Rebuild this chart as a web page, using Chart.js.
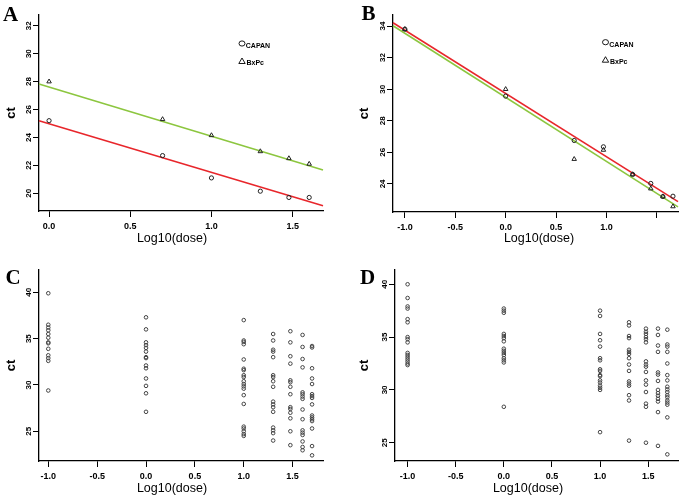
<!DOCTYPE html>
<html>
<head>
<meta charset="utf-8">
<script src="https://cdn.jsdelivr.net/npm/chart.js@4.4.0/dist/chart.umd.min.js"></script>
<style>
  body { margin: 0; background: #fff; }
  #wrap { position: relative; width: 683px; height: 500px; overflow: hidden; }
  canvas { position: absolute; }
</style>
</head>
<body>
<div id="wrap">
  <canvas id="panelA" width="341" height="250" style="left:0;top:0"></canvas>
  <canvas id="panelB" width="343" height="250" style="left:340px;top:0"></canvas>
  <canvas id="panelC" width="341" height="250" style="left:0;top:250px"></canvas>
  <canvas id="panelD" width="343" height="250" style="left:340px;top:250px"></canvas>
</div>
<script>
// Panel A: standard curves
const doseA = [0, 0.699, 1, 1.301, 1.477, 1.602];
const capanA = [25.2, 22.7, 21.1, 20.15, 19.7, 19.7];
const bxpcA = [28.0, 25.3, 24.15, 23.0, 22.5, 22.1];
const fitDoseA = [-0.062, 1.687];
const fitCapanA = [25.2, 19.1];
const fitBxpcA = [27.83, 21.67];
const xTicksA = [0, 0.5, 1, 1.5];
const xLabelsA = ["0.0", "0.5", "1.0", "1.5"];
const yTicksA = [20, 22, 24, 26, 28, 30, 32];

// Panel B
const doseB = [-1, 0, 0.68, 0.97, 1.26, 1.44, 1.56, 1.66];
const capanB = [33.8, 29.56, 26.75, 26.35, 24.6, 24.03, 23.2, 23.22];
const bxpcB = [33.8, 30.0, 25.57, 26.15, 24.6, 23.7, 23.2, 22.57];
const fitDoseB = [-1.118, 1.71];
const fitCapanB = [34.21, 22.88];
const fitBxpcB = [34.02, 22.54];
const xTicksB = [-1, -0.5, 0, 0.5, 1, 1.5];
const xLabelsB = ["-1.0", "-0.5", "0.0", "0.5", "1.0", ""];
const yTicksB = [24, 26, 28, 30, 32, 34];

// Panels C and D: ct values at each dose level
const dosesCD = [-1, 0, 1, 1.301, 1.477, 1.602, 1.699];
const xTicksCD = [-1, -0.5, 0, 0.5, 1, 1.5];
const xLabelsCD = ["-1.0", "-0.5", "0.0", "0.5", "1.0", "1.5"];
const yTicksCD = [25, 30, 35, 40];

const ctC = [
  [39.9, 36.5, 36.2, 35.9, 35.5, 35.1, 34.6, 34.5, 33.9, 33.2, 32.9, 32.6, 29.4],
  [37.3, 36.0, 34.6, 34.3, 34.0, 33.6, 33.0, 32.9, 32.1, 31.8, 30.7, 29.9, 29.1, 27.1],
  [37.0, 34.8, 34.65, 34.4, 32.75, 31.75, 31.6, 31.05, 30.85, 30.4, 30.1, 29.85, 29.6, 28.9, 27.95, 25.5, 25.3, 25.0, 24.7, 24.5],
  [35.5, 34.8, 33.8, 33.6, 33.0, 31.05, 30.85, 30.4, 29.8, 28.2, 27.9, 27.6, 27.1, 25.4, 25.1, 24.8, 24.0],
  [35.8, 34.6, 33.1, 32.3, 30.5, 30.3, 29.8, 29.0, 27.6, 27.4, 27.0, 26.4, 25.0, 23.5],
  [35.4, 34.1, 32.8, 31.9, 29.2, 29.0, 28.75, 28.5, 27.35, 26.3, 25.1, 24.85, 24.6, 23.9, 23.3, 22.95],
  [34.2, 34.05, 31.8, 30.7, 30.1, 29.0, 28.8, 28.6, 27.9, 26.7, 26.5, 26.3, 26.1, 25.3, 23.4, 22.4],
];
const ctD = [
  [40.0, 38.7, 37.9, 37.7, 36.7, 36.4, 35.0, 34.8, 34.5, 33.5, 33.3, 33.1, 32.9, 32.7, 32.5, 32.35],
  [37.7, 37.5, 37.3, 35.3, 35.1, 34.9, 34.6, 33.9, 33.7, 33.5, 33.3, 33.0, 32.8, 32.6, 28.4],
  [37.5, 37.0, 35.3, 34.7, 34.1, 33.0, 32.8, 31.95, 31.8, 31.4, 31.3, 30.9, 30.7, 30.4, 30.2, 30.0, 26.0],
  [36.4, 36.1, 35.1, 34.9, 33.8, 33.6, 33.4, 33.0, 32.4, 31.8, 30.8, 30.6, 30.4, 29.5, 29.0, 25.2],
  [35.8, 35.5, 35.3, 35.0, 34.8, 34.5, 32.7, 32.4, 32.2, 31.7, 30.9, 30.5, 29.8, 28.7, 28.4, 25.0],
  [35.8, 35.2, 34.2, 33.6, 31.65, 31.45, 30.85, 30.0, 29.7, 29.45, 29.15, 28.9, 27.9, 24.7],
  [35.7, 34.3, 34.1, 33.6, 32.5, 31.4, 30.9, 30.3, 30.05, 29.8, 29.5, 29.3, 29.0, 28.8, 28.6, 27.4, 23.9],
];

Chart.defaults.font.family = '"Liberation Sans", Arial, sans-serif';
Chart.defaults.color = "#000";
Chart.defaults.animation = false;

const RED = "#e8262b";
const GREEN = "#8cc63f";

const zip = (xs, ys) => ys.map((y, i) => ({ x: xs[i], y: y }));
const columns = (xs, cols) => cols.flatMap((col, i) => col.map((y) => ({ x: xs[i], y: y })));

function pointSet(data, style, color, radius) {
  return {
    data: data,
    pointStyle: style,
    pointRadius: radius,
    pointBorderWidth: 1,
    pointBorderColor: color,
    pointBackgroundColor: "rgba(0,0,0,0)",
    showLine: false,
    clip: false,
  };
}

function fitSet(data, color) {
  return {
    data: data,
    showLine: true,
    borderColor: color,
    borderWidth: 1.6,
    pointRadius: 0,
    clip: false,
  };
}

// letter, x-title and optional legend drawn on top of each panel
function decor(p) {
  return {
    id: "decor",
    afterDraw(chart) {
      const ctx = chart.ctx;
      ctx.save();
      ctx.fillStyle = "#000";
      ctx.strokeStyle = "#000";
      ctx.font = 'bold 21px "Liberation Serif", serif';
      ctx.textAlign = "left";
      ctx.textBaseline = "alphabetic";
      ctx.fillText(p.letter, p.letterX, p.letterY);

      ctx.font = '12.5px "Liberation Sans", Arial, sans-serif';
      ctx.textAlign = "center";
      ctx.textBaseline = "middle";
      ctx.fillText("Log10(dose)", p.titleX, p.titleY);

      if (p.legend) {
        const lx = p.legend[0], ly = p.legend[1];
        ctx.lineWidth = 0.9;
        ctx.beginPath();
        ctx.ellipse(lx, ly, 3, 2.6, 0, 0, Math.PI * 2);
        ctx.stroke();
        ctx.beginPath();
        ctx.moveTo(lx, ly + 14.5);
        ctx.lineTo(lx + 3.2, ly + 20);
        ctx.lineTo(lx - 3.2, ly + 20);
        ctx.closePath();
        ctx.stroke();
        ctx.font = 'bold 7px "Liberation Sans", Arial, sans-serif';
        ctx.textAlign = "left";
        ctx.textBaseline = "alphabetic";
        ctx.fillText("CAPAN", lx + 3.8, ly + 4.3);
        ctx.fillText("BxPc", lx + 4.5, ly + 21.5);
      }
      ctx.restore();
    },
  };
}

function axes(p) {
  return {
    x: {
      type: "linear",
      min: p.xMin,
      max: p.xMax,
      afterFit: (s) => { s.height = p.bottomH; },
      afterBuildTicks: (s) => { s.ticks = p.xTicks.map((v) => ({ value: v })); },
      ticks: {
        autoSkip: false,
        maxRotation: 0,
        padding: 4,
        font: { size: 9, weight: "bold" },
        callback: (v, i) => p.xLabels[i],
      },
      grid: { drawOnChartArea: false, drawTicks: true, tickLength: 6, color: "#000", lineWidth: 1 },
      border: { display: true, color: "#000", width: 1.3 },
    },
    y: {
      type: "linear",
      min: p.yMin,
      max: p.yMax,
      afterFit: (s) => { s.width = p.leftW; },
      afterBuildTicks: (s) => { s.ticks = p.yTicks.map((v) => ({ value: v })); },
      ticks: {
        autoSkip: false,
        minRotation: 90,
        maxRotation: 90,
        crossAlign: "center",
        padding: 0,
        font: { size: 8, weight: "bold" },
        callback: (v) => String(v),
      },
      title: {
        display: true,
        text: "ct",
        font: { size: 13, weight: "bold" },
        padding: { top: p.ctPad, bottom: 0 },
      },
      grid: { drawOnChartArea: false, drawTicks: true, tickLength: 6, color: "#000", lineWidth: 1 },
      border: { display: true, color: "#000", width: 1.3 },
    },
  };
}

function baseOptions(p) {
  return {
    responsive: false,
    animation: false,
    layout: { padding: { left: 0, top: p.padTop, right: p.padRight, bottom: 0 } },
    plugins: { legend: { display: false }, tooltip: { enabled: false } },
    scales: axes(p),
  };
}

// Panel A
new Chart(document.getElementById("panelA").getContext("2d"), {
  type: "scatter",
  data: {
    datasets: [
      pointSet(zip(doseA, capanA), "circle", "#222", 2.1),
      pointSet(zip(doseA, bxpcA), "triangle", "#222", 2.6),
      fitSet(zip(fitDoseA, fitCapanA), RED),
      fitSet(zip(fitDoseA, fitBxpcA), GREEN),
    ],
  },
  options: baseOptions({
    xMin: -0.062, xMax: 1.687, yMin: 18.73, yMax: 32.77,
    xTicks: xTicksA, xLabels: xLabelsA, yTicks: yTicksA,
    leftW: 39, bottomH: 39, padTop: 15, padRight: 18, ctPad: 4,
  }),
  plugins: [decor({ letter: "A", letterX: 3, letterY: 20.5, titleX: 172, titleY: 239, legend: [242, 43.5] })],
});

// Panel B
new Chart(document.getElementById("panelB").getContext("2d"), {
  type: "scatter",
  data: {
    datasets: [
      pointSet(zip(doseB, capanB), "circle", "#222", 2.1),
      pointSet(zip(doseB, bxpcB), "triangle", "#222", 2.6),
      fitSet(zip(fitDoseB, fitCapanB), RED),
      fitSet(zip(fitDoseB, fitBxpcB), GREEN),
    ],
  },
  options: baseOptions({
    xMin: -1.118, xMax: 1.71, yMin: 22.22, yMax: 34.7,
    xTicks: xTicksB, xLabels: xLabelsB, yTicks: yTicksB,
    leftW: 53, bottomH: 38, padTop: 15, padRight: 4, ctPad: 17,
  }),
  plugins: [decor({ letter: "B", letterX: 21.5, letterY: 19.5, titleX: 199, titleY: 239, legend: [265.5, 42.2] })],
});

// Panel C
new Chart(document.getElementById("panelC").getContext("2d"), {
  type: "scatter",
  data: { datasets: [pointSet(columns(dosesCD, ctC), "circle", "#444", 1.8)] },
  options: baseOptions({
    xMin: -1.095, xMax: 1.811, yMin: 21.79, yMax: 42.41,
    xTicks: xTicksCD, xLabels: xLabelsCD, yTicks: yTicksCD,
    leftW: 39, bottomH: 39, padTop: 20, padRight: 18, ctPad: 4,
  }),
  plugins: [decor({ letter: "C", letterX: 5.5, letterY: 34, titleX: 172, titleY: 239 })],
});

// Panel D
new Chart(document.getElementById("panelD").getContext("2d"), {
  type: "scatter",
  data: { datasets: [pointSet(columns(dosesCD, ctD), "circle", "#444", 1.8)] },
  options: baseOptions({
    xMin: -1.131, xMax: 1.81, yMin: 23.27, yMax: 41.35,
    xTicks: xTicksCD, xLabels: xLabelsCD, yTicks: yTicksCD,
    leftW: 55, bottomH: 39, padTop: 20, padRight: 3, ctPad: 17,
  }),
  plugins: [decor({ letter: "D", letterX: 20, letterY: 33.5, titleX: 188, titleY: 239 })],
});
</script>
</body>
</html>
